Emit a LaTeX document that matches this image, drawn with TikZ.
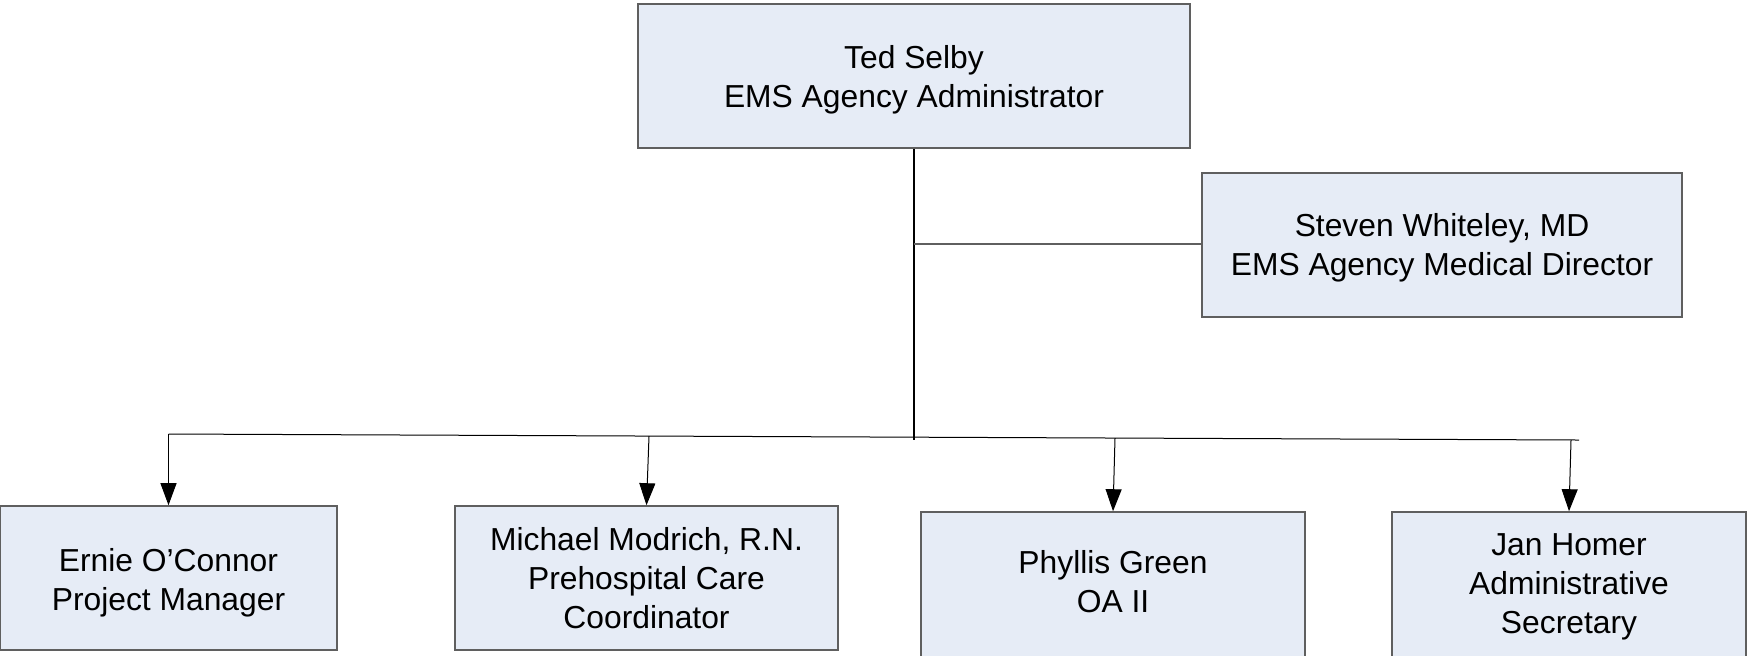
\documentclass[tikz,border=0pt]{standalone}
\usepackage{fontspec}
\setmainfont{Liberation Sans}
\usetikzlibrary{arrows.meta}
\definecolor{boxfill}{RGB}{230,236,246}
\definecolor{boxline}{RGB}{95,95,95}
\tikzset{
  orgbox/.style={draw=boxline,line width=0.8pt,fill=boxfill,align=center,inner sep=0pt,
    font=\fontsize{15.9}{19.5}\selectfont,minimum height=72pt},
  drop/.style={execute at begin node={\rule{0pt}{#1}}},
  lift/.style={execute at end node={\rule[-#1]{0pt}{0pt}}},
  tick/.style={line width=0.5pt,-{Triangle[width=8pt,length=11pt]}}
}
\begin{document}
\begin{tikzpicture}[x=0.5pt,y=-0.5pt]
\clip (0,0) rectangle (1748,655);
\node at (914,76) [orgbox,drop=34.5pt,minimum width=276pt] (admin) {Ted Selby\\EMS Agency Administrator};
\node at (1442,245) [orgbox,drop=33.3pt,minimum width=240pt] (med) {Steven Whiteley, MD\\EMS Agency Medical Director};
\node at (168.5,578) [orgbox,drop=35.6pt,minimum width=168.5pt] (pm) {Ernie O’Connor\\Project Manager};
\node at (646.5,578) [orgbox,minimum width=191.5pt] (phc) {Michael Modrich, R.N.\\Prehospital Care\\Coordinator};
\node at (1113,592) [orgbox,lift=10.2pt,minimum width=192pt,minimum height=80pt] (oa) {Phyllis Green\\OA II};
\node at (1569,592) [orgbox,lift=8pt,minimum width=177pt,minimum height=80pt] (sec) {Jan Homer\\Administrative\\Secretary};
\coordinate (b0) at (914,440);
\coordinate (bl) at (168.5,434);
\coordinate (br) at (1579,440);
\coordinate (b2) at (649,436);
\coordinate (b3) at (1115,438);
\coordinate (b4) at (1571,440);
\coordinate (bm) at (914,244);
\draw[line width=1pt] (admin) -- (b0);
\draw[line width=0.75pt,boxline] (bm) -- (med.west |- bm);
\draw[line width=0.5pt] (bl) -- (br);
\draw[tick] (bl) -- (pm.north);
\draw[tick] (b2) -- (phc.north);
\draw[tick] (b3) -- (oa.north);
\draw[tick] (b4) -- (sec.north);
\end{tikzpicture}
\end{document}
